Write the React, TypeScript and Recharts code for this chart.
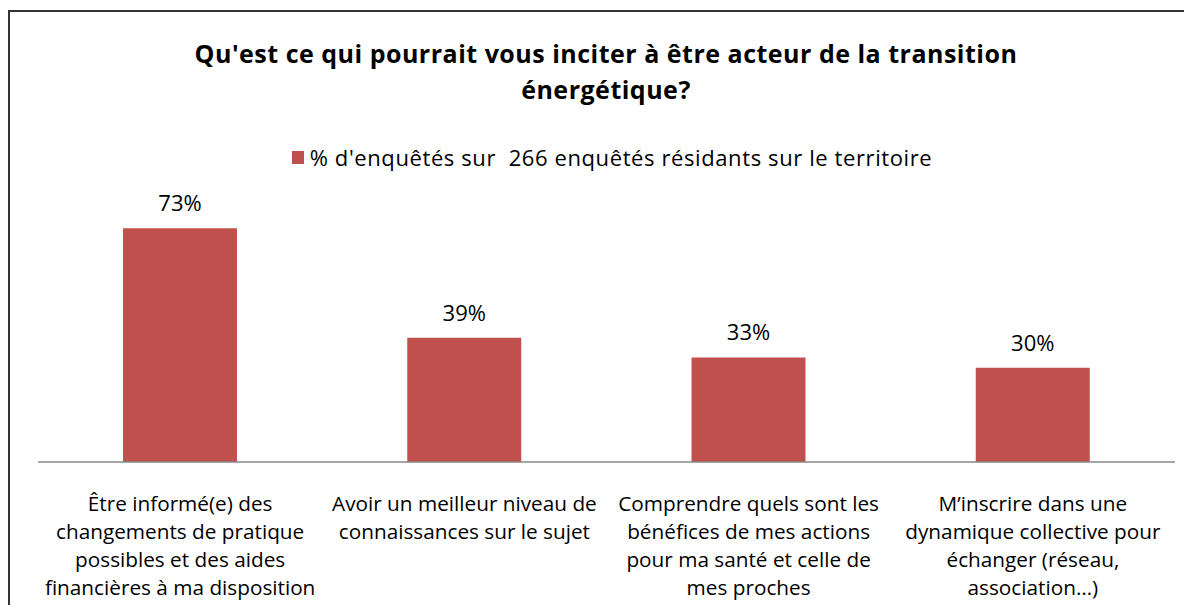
import React from "react";
import { Bar, BarChart, LabelList, XAxis, YAxis } from "recharts";

const title = ["Qu'est ce qui pourrait vous inciter à être acteur de la transition", "énergétique?"];
const seriesName = "% d'enquêtés sur  266 enquêtés résidants sur le territoire";

const categories = [
  "Être informé(e) des\nchangements de pratique\npossibles et des aides\nfinancières à ma disposition",
  "Avoir un meilleur niveau de\nconnaissances sur le sujet",
  "Comprendre quels sont les\nbénéfices de mes actions\npour ma santé et celle de\nmes proches",
  "M’inscrire dans une\ndynamique collective pour\néchanger (réseau,\nassociation…)",
];
const shares = [0.733, 0.39, 0.328, 0.296];

const data = categories.map((name, i) => ({ name, share: shares[i] }));

const FONT = "'Open Sans', 'Noto Sans', sans-serif";
const RED = "#C0504D";

function CategoryTick({ x, y, payload }: any) {
  const lines = String(payload.value).split("\n");
  return (
    <text x={x} y={y + 41} textAnchor="middle" fill="#000" fontSize={20.75} fontFamily={FONT}>
      {lines.map((line, i) => (
        <tspan key={i} x={x} dy={i === 0 ? 0 : 28}>
          {line}
        </tspan>
      ))}
    </text>
  );
}

const pct = (v: any) => `${Math.round(Number(v) * 100)}%`;

export default function App() {
  return (
    <div style={{ position: "relative", width: 1184, height: 597, overflow: "hidden", background: "#fff" }}>
      <div
        style={{
          position: "absolute",
          left: 0,
          top: 2,
          width: 1300,
          height: 1000,
          border: "2px solid #333",
          boxSizing: "border-box",
        }}
      />
      <svg style={{ position: "absolute", left: 0, top: 0 }} width={1196} height={120}>
        {title.map((t, i) => (
          <text
            key={i}
            x={598}
            y={55 + i * 36}
            textAnchor="middle"
            fontFamily={FONT}
            fontWeight={700}
            fontSize={25}
            letterSpacing={0.5}
            fill="#000"
          >
            {t}
          </text>
        ))}
      </svg>
      <div
        style={{
          position: "absolute",
          left: 0,
          top: 137,
          width: 1208,
          display: "flex",
          justifyContent: "center",
          alignItems: "center",
          fontFamily: FONT,
          fontSize: 22,
          letterSpacing: 0.6,
          color: "#000",
          lineHeight: "24px",
          whiteSpace: "pre",
        }}
      >
        <span style={{ width: 12, height: 13, background: RED, marginRight: 6, display: "inline-block" }} />
        <span>{seriesName}</span>
      </div>
      <div style={{ position: "absolute", left: 0, top: 0 }}>
        <BarChart
          width={1184}
          height={597}
          data={data}
          margin={{ top: 199, right: 17, left: 30, bottom: 13 }}
          barCategoryGap="30%"
        >
          <XAxis
            dataKey="name"
            interval={0}
            height={130}
            tick={<CategoryTick />}
            tickLine={false}
            axisLine={{ stroke: "#898989", strokeWidth: 1.5 }}
          />
          <YAxis hide domain={[0, 0.8]} />
          <Bar dataKey="share" fill={RED} barSize={114} isAnimationActive={false}>
            <LabelList
              dataKey="share"
              position="top"
              offset={17}
              formatter={pct}
              fill="#000"
              fontSize={22}
              fontFamily={FONT}
            />
          </Bar>
        </BarChart>
      </div>
    </div>
  );
}
